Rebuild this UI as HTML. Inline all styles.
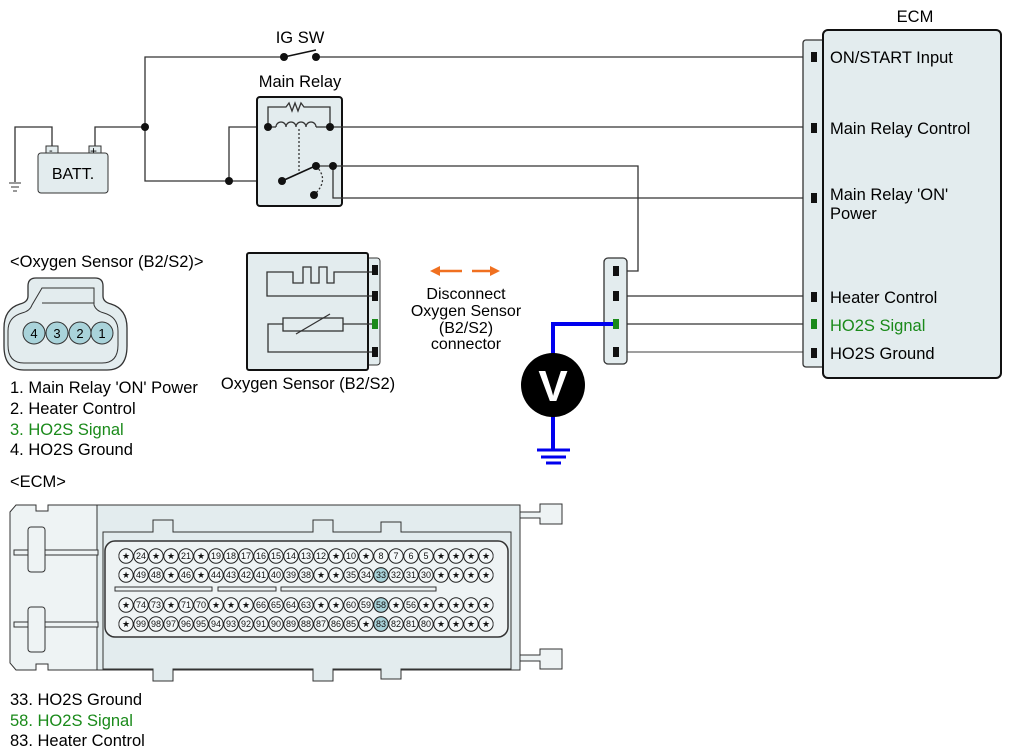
<!DOCTYPE html>
<html><head><meta charset="utf-8"><style>
body{margin:0;background:#fff;}
svg{display:block;font-family:"Liberation Sans",Arial,sans-serif;}
</style></head><body>
<svg width="1012" height="756" viewBox="0 0 1012 756" xmlns="http://www.w3.org/2000/svg">
<defs>
<pattern id="pins" x="118.5" y="0" width="15" height="756" patternUnits="userSpaceOnUse">
<circle cx="7.5" cy="556" r="7.2" fill="#f4f8f9" stroke="#222" stroke-width="1"/>
<circle cx="7.5" cy="575" r="7.2" fill="#f4f8f9" stroke="#222" stroke-width="1"/>
<circle cx="7.5" cy="605" r="7.2" fill="#f4f8f9" stroke="#222" stroke-width="1"/>
<circle cx="7.5" cy="624" r="7.2" fill="#f4f8f9" stroke="#222" stroke-width="1"/>
</pattern>
</defs>
<g stroke="#333" stroke-width="1.3" fill="none">
<polyline points="284,57 145,57 145,181 282,181"/>
<line x1="316" y1="57" x2="803" y2="57"/>
<line x1="284" y1="57" x2="316" y2="50" stroke="#111" stroke-width="1.6"/>
<polyline points="52,150 52,127 15,127 15,182"/>
<polyline points="95,150 95,127 145,127"/>
<polyline points="229,181 229,127 268,127"/>
</g>
<g stroke="#333"><line x1="9" y1="183" x2="21" y2="183"/><line x1="11" y1="187" x2="19" y2="187"/><line x1="13" y1="191" x2="17" y2="191"/></g>
<rect x="46" y="146" width="12" height="9" fill="#e3ecee" stroke="#333"/>
<rect x="89" y="146" width="12" height="9" fill="#e3ecee" stroke="#333"/>
<text x="49" y="154" font-size="11">-</text><text x="90" y="155" font-size="12">+</text>
<rect x="38" y="153" width="70" height="40" rx="3" fill="#e3ecee" stroke="#333"/>
<text x="73" y="179" font-size="16" text-anchor="middle">BATT.</text>
<text x="300" y="43" font-size="16.5" text-anchor="middle">IG SW</text>
<text x="300" y="87" font-size="16.5" text-anchor="middle">Main Relay</text>
<rect x="257" y="97" width="85" height="109" rx="3" fill="#e3ecee" stroke="#111" stroke-width="2"/>
<g stroke="#333" stroke-width="1.3" fill="none">
<polyline points="268,127 268,107 286,107 289,103 292,111 295,103 298,111 301,103 304,107 330,107 330,127"/>
<path d="M276,127 a5,5 0 0 1 10,0 a5,5 0 0 1 10,0 a5,5 0 0 1 10,0 a5,5 0 0 1 10,0"/>
<line x1="268" y1="127" x2="276" y2="127"/><line x1="316" y1="127" x2="330" y2="127"/>
<line x1="299" y1="129" x2="299" y2="171" stroke-dasharray="2,2"/>
<path d="M316,166 Q330,180 314,195" stroke-dasharray="2,2"/>
<line x1="282" y1="181" x2="313" y2="167" stroke="#111" stroke-width="1.6"/>
<line x1="330" y1="127" x2="803" y2="127"/>
<polyline points="316,166 638,166 638,271 616,271"/>
<polyline points="333,166 333,198 803,198"/>
<line x1="627" y1="296" x2="803" y2="296"/>
<line x1="627" y1="324" x2="803" y2="324"/>
<line x1="627" y1="352" x2="803" y2="352" stroke="#666"/>
</g>
<g fill="#111">
<circle cx="284" cy="57" r="4"/><circle cx="316" cy="57" r="4"/>
<circle cx="145" cy="127" r="4"/><circle cx="229" cy="181" r="4"/>
<circle cx="268" cy="127" r="4"/><circle cx="330" cy="127" r="4"/>
<circle cx="282" cy="181" r="4"/><circle cx="316" cy="166" r="4"/>
<circle cx="333" cy="166" r="4"/><circle cx="314" cy="195" r="4"/>
</g>
<rect x="803" y="40" width="24" height="327" rx="3" fill="#e3ecee" stroke="#333" stroke-width="1.3"/>
<rect x="823" y="30" width="178" height="348" rx="5" fill="#e3ecee" stroke="#111" stroke-width="2"/>
<text x="915" y="22" font-size="16.5" text-anchor="middle">ECM</text>
<g fill="#111"><rect x="811" y="52" width="6" height="10"/><rect x="811" y="123" width="6" height="10"/><rect x="811" y="193" width="6" height="10"/><rect x="811" y="292" width="6" height="10"/><rect x="811" y="348" width="6" height="10"/></g>
<rect x="811" y="319" width="6" height="10" fill="#1a8a1a"/>
<g font-size="16.5">
<text x="830" y="63">ON/START Input</text>
<text x="830" y="134">Main Relay Control</text>
<text x="830" y="200">Main Relay 'ON'</text>
<text x="830" y="219">Power</text>
<text x="830" y="303">Heater Control</text>
<text x="830" y="331" fill="#1a8a1a">HO2S  Signal</text>
<text x="830" y="359">HO2S  Ground</text>
</g>
<rect x="604" y="258" width="23" height="106" rx="4" fill="#e3ecee" stroke="#333" stroke-width="1.3"/>
<g fill="#111"><rect x="613" y="266" width="6" height="10"/><rect x="613" y="291" width="6" height="10"/><rect x="613" y="347" width="6" height="10"/></g>
<rect x="613" y="319" width="6" height="10" fill="#1a8a1a"/>
<polyline points="613,324 553,324 553,450" stroke="#0000ee" stroke-width="4" fill="none"/>
<g stroke="#0000ee" stroke-width="3"><line x1="537" y1="450" x2="570" y2="450"/><line x1="541" y1="457" x2="566" y2="457"/><line x1="546" y1="463" x2="561" y2="463"/></g>
<circle cx="553" cy="385" r="32" fill="#000"/>
<text x="553" y="401" font-size="44" font-weight="bold" fill="#fff" text-anchor="middle">V</text>
<g stroke="#f07020" stroke-width="2.5" fill="#f07020">
<line x1="438" y1="271" x2="462" y2="271"/><polygon points="430,271 440,266 440,276" stroke="none"/>
<line x1="472" y1="271" x2="492" y2="271"/><polygon points="500,271 490,266 490,276" stroke="none"/>
</g>
<g font-size="16" text-anchor="middle">
<text x="466" y="299">Disconnect</text><text x="466" y="316">Oxygen Sensor</text>
<text x="466" y="333">(B2/S2)</text><text x="466" y="349">connector</text>
</g>
<rect x="366" y="258" width="14" height="107" rx="3" fill="#e3ecee" stroke="#333"/>
<rect x="247" y="253" width="121" height="117" rx="2" fill="#e3ecee" stroke="#111" stroke-width="2"/>
<g fill="#111"><rect x="372" y="265" width="6" height="10"/><rect x="372" y="291" width="6" height="10"/><rect x="372" y="347" width="6" height="10"/></g>
<rect x="372" y="319" width="6" height="10" fill="#1a8a1a"/>
<g stroke="#333" stroke-width="1.3" fill="none">
<polyline points="372,272 334,272 334,283 327,283 327,267 319,267 319,283 311,283 311,267 303,267 303,283 293,283 293,272 267,272 267,296 372,296"/>
<rect x="283" y="318" width="60" height="13"/>
<polyline points="343,324 372,324"/>
<polyline points="283,324 268,324 268,352 372,352"/>
<line x1="296" y1="334" x2="330" y2="314"/>
</g>
<text x="308" y="389" font-size="16.5" text-anchor="middle">Oxygen Sensor (B2/S2)</text>
<text x="10" y="267" font-size="16.5">&lt;Oxygen Sensor (B2/S2)&gt;</text>
<path d="M40,278 h55 q8,0 8,8 v10 q0,6 8,8 q16,5 16,24 v18 q0,24 -20,24 h-83 q-20,0 -20,-24 v-18 q0,-19 16,-24 q8,-2 8,-8 v-10 q0,-8 8,-8z" fill="#e3ecee" stroke="#333" stroke-width="1.3"/>
<path d="M42,288 h52 v17 q2,6 10,8 q14,4 14,18 v14 q0,18 -16,18 h-78 q-16,0 -16,-18 v-14 q0,-14 14,-18 q8,-2 10,-8 z" fill="none" stroke="#333"/>
<line x1="42" y1="303" x2="94" y2="303" stroke="#333"/>
<g fill="#a9d3da" stroke="#333">
<circle cx="34" cy="333" r="11"/><circle cx="57" cy="333" r="11"/><circle cx="80" cy="333" r="11"/><circle cx="102" cy="333" r="11"/>
</g>
<g font-size="13" text-anchor="middle"><text x="34" y="338">4</text><text x="57" y="338">3</text><text x="80" y="338">2</text><text x="102" y="338">1</text></g>
<g font-size="16.5">
<text x="10" y="393">1. Main Relay 'ON' Power</text>
<text x="10" y="414">2. Heater Control</text>
<text x="10" y="435" fill="#1a8a1a">3. HO2S  Signal</text>
<text x="10" y="455">4. HO2S  Ground</text>
<text x="10" y="487">&lt;ECM&gt;</text>
<text x="10" y="705">33. HO2S  Ground</text>
<text x="10" y="726" fill="#1a8a1a">58. HO2S  Signal</text>
<text x="10" y="746">83. Heater Control</text>
</g>
<g stroke="#333" stroke-width="1" fill="#eef3f4">
<path d="M10,512 l6,-7 h20 v6 h12 v-6 h50 v165 h-50 v-6 h-12 v6 h-20 l-6,-7 z"/>
<rect x="97" y="505" width="423" height="165" fill="#e3ecee"/>
<path d="M520,512 h20 v-8 h22 v20 h-22 v-6 h-20z"/>
<path d="M520,655 h20 v-6 h22 v20 h-22 v-8 h-20z"/>
<rect x="14" y="550" width="84" height="5"/><rect x="14" y="622" width="84" height="5"/>
<rect x="28" y="527" width="17" height="45" rx="3"/><rect x="28" y="607" width="17" height="45" rx="3"/>
<path d="M103,532 h50 v-12 h20 v12 h140 v-12 h20 v12 h48 v-10 h20 v10 h110 v137 h-110 v10 h-20 v-10 h-48 v12 h-20 v-12 h-140 v12 h-20 v-12 h-50z" fill="#e3ecee"/>
<rect x="105" y="541" width="403" height="96" rx="10" fill="#eef3f4" stroke-width="1.5"/>
<rect x="115" y="587" width="97" height="4"/><rect x="218" y="587" width="58" height="4"/><rect x="281" y="587" width="155" height="4"/>
</g>
<rect x="118.5" y="546" width="375" height="86" fill="url(#pins)"/>
<g fill="#a9d3da" stroke="#222"><circle cx="381" cy="575" r="7.2"/><circle cx="381" cy="605" r="7.2"/><circle cx="381" cy="624" r="7.2"/></g>
<g font-size="9" text-anchor="middle" fill="#111">
<text y="559"><tspan x="126">★</tspan><tspan x="141">24</tspan><tspan x="156">★</tspan><tspan x="171">★</tspan><tspan x="186">21</tspan><tspan x="201">★</tspan><tspan x="216">19</tspan><tspan x="231">18</tspan><tspan x="246">17</tspan><tspan x="261">16</tspan><tspan x="276">15</tspan><tspan x="291">14</tspan><tspan x="306">13</tspan><tspan x="321">12</tspan><tspan x="336">★</tspan><tspan x="351">10</tspan><tspan x="366">★</tspan><tspan x="381">8</tspan><tspan x="396">7</tspan><tspan x="411">6</tspan><tspan x="426">5</tspan><tspan x="441">★</tspan><tspan x="456">★</tspan><tspan x="471">★</tspan><tspan x="486">★</tspan></text>
<text y="578"><tspan x="126">★</tspan><tspan x="141">49</tspan><tspan x="156">48</tspan><tspan x="171">★</tspan><tspan x="186">46</tspan><tspan x="201">★</tspan><tspan x="216">44</tspan><tspan x="231">43</tspan><tspan x="246">42</tspan><tspan x="261">41</tspan><tspan x="276">40</tspan><tspan x="291">39</tspan><tspan x="306">38</tspan><tspan x="321">★</tspan><tspan x="336">★</tspan><tspan x="351">35</tspan><tspan x="366">34</tspan><tspan x="381">33</tspan><tspan x="396">32</tspan><tspan x="411">31</tspan><tspan x="426">30</tspan><tspan x="441">★</tspan><tspan x="456">★</tspan><tspan x="471">★</tspan><tspan x="486">★</tspan></text>
<text y="608"><tspan x="126">★</tspan><tspan x="141">74</tspan><tspan x="156">73</tspan><tspan x="171">★</tspan><tspan x="186">71</tspan><tspan x="201">70</tspan><tspan x="216">★</tspan><tspan x="231">★</tspan><tspan x="246">★</tspan><tspan x="261">66</tspan><tspan x="276">65</tspan><tspan x="291">64</tspan><tspan x="306">63</tspan><tspan x="321">★</tspan><tspan x="336">★</tspan><tspan x="351">60</tspan><tspan x="366">59</tspan><tspan x="381">58</tspan><tspan x="396">★</tspan><tspan x="411">56</tspan><tspan x="426">★</tspan><tspan x="441">★</tspan><tspan x="456">★</tspan><tspan x="471">★</tspan><tspan x="486">★</tspan></text>
<text y="627"><tspan x="126">★</tspan><tspan x="141">99</tspan><tspan x="156">98</tspan><tspan x="171">97</tspan><tspan x="186">96</tspan><tspan x="201">95</tspan><tspan x="216">94</tspan><tspan x="231">93</tspan><tspan x="246">92</tspan><tspan x="261">91</tspan><tspan x="276">90</tspan><tspan x="291">89</tspan><tspan x="306">88</tspan><tspan x="321">87</tspan><tspan x="336">86</tspan><tspan x="351">85</tspan><tspan x="366">★</tspan><tspan x="381">83</tspan><tspan x="396">82</tspan><tspan x="411">81</tspan><tspan x="426">80</tspan><tspan x="441">★</tspan><tspan x="456">★</tspan><tspan x="471">★</tspan><tspan x="486">★</tspan></text>
</g>
</svg>
</body></html>
